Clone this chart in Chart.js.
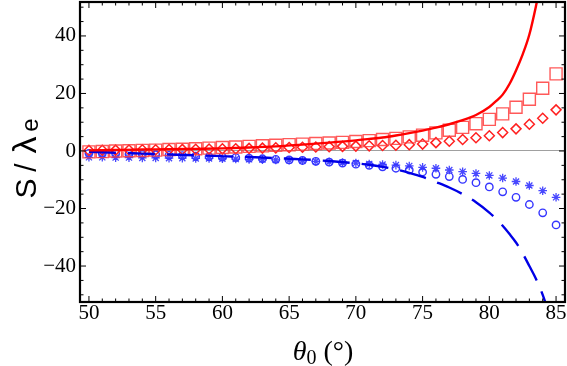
<!DOCTYPE html>
<html lang="en">
<head>
<meta charset="UTF-8">
<title>S / lambda_e vs theta_0</title>
<script src="https://cdn.jsdelivr.net/npm/chart.js"></script>
<style>
  body { margin: 0; background: #ffffff; }
</style>
</head>
<body>
<canvas id="myChart" width="567" height="366"></canvas>
<script>
    // marker positions, one every degree
    var theta_marks = [50, 51, 52, 53, 54, 55, 56, 57, 58, 59, 60, 61, 62, 63, 64, 65, 66, 67,
                       68, 69, 70, 71, 72, 73, 74, 75, 76, 77, 78, 79, 80, 81, 82, 83, 84, 85];

    var squares  = [-0.3, -0.2, 0.0, 0.1, 0.2, 0.3, 0.5, 0.6, 0.8, 1.0, 1.2, 1.4, 1.6, 1.8, 2.0, 2.2, 2.4, 2.6,
                    2.8, 3.0, 3.3, 3.6, 4.0, 4.4, 4.9, 5.5, 6.3, 7.2, 8.2, 9.5, 11.0, 12.9, 15.2, 18.0, 21.8, 26.8];
    var diamonds = [0.2, 0.25, 0.3, 0.35, 0.4, 0.45, 0.5, 0.55, 0.6, 0.7, 0.75, 0.8, 0.9, 1.0, 1.1, 1.2, 1.3, 1.4,
                    1.5, 1.6, 1.7, 1.8, 1.9, 2.0, 2.2, 2.4, 2.9, 3.4, 4.0, 4.6, 5.3, 6.4, 7.7, 9.3, 11.4, 14.3];
    var circles  = [-0.8, -0.9, -1.0, -1.1, -1.2, -1.3, -1.5, -1.6, -1.8, -2.0, -2.1, -2.3, -2.5, -2.7, -2.9, -3.1, -3.3, -3.6,
                    -3.9, -4.2, -4.6, -5.0, -5.5, -6.0, -6.6, -7.3, -8.1, -8.9, -9.9, -11.0, -12.5, -14.2, -16.1, -18.6, -21.5, -25.7];
    var stars    = [-2.2, -2.2, -2.3, -2.3, -2.4, -2.4, -2.5, -2.5, -2.6, -2.6, -2.7, -2.8, -2.9, -3.0, -3.1, -3.2, -3.4, -3.6,
                    -3.8, -4.0, -4.2, -4.5, -4.7, -4.9, -5.2, -5.7, -6.0, -6.6, -7.2, -7.8, -8.5, -9.4, -10.6, -12.0, -13.8, -16.1];

    // the two curves
    var solid_x  = [50, 52, 54, 56, 58, 60, 62, 64, 66, 68, 70, 71, 72, 73, 74, 75, 76, 77, 78, 79,
                    80, 80.5, 81, 81.5, 82, 82.5, 83, 83.5, 84];
    var solid_y  = [0.2, 0.35, 0.5, 0.6, 0.75, 0.9, 1.2, 1.6, 2.2, 2.9, 3.7, 4.2, 4.7, 5.4, 6.2, 7.1, 8.1, 9.3, 10.7, 12.5,
                    15.3, 17.3, 19.6, 23.2, 28.0, 33.6, 40.5, 50.5, 62.0];
    var dashed_x = [50, 52, 54, 56, 58, 60, 62, 64, 66, 68, 70, 71, 72, 73, 74, 75, 76, 77, 78, 79,
                    80, 80.5, 81, 81.5, 82, 82.5, 83, 83.5, 84, 84.5];
    var dashed_y = [-0.3, -0.6, -0.9, -1.2, -1.5, -1.8, -2.1, -2.5, -2.9, -3.5, -4.3, -4.8, -5.5, -6.4, -7.6, -9.0, -10.8, -12.7, -15.0, -17.8,
                    -21.4, -23.6, -26.0, -28.8, -31.8, -35.6, -40.0, -44.5, -50.0, -57.0];

    var x_ticks = [50, 55, 60, 65, 70, 75, 80, 85];
    var y_ticks = [-40, -20, 0, 20, 40];

    var SERIF = '"Liberation Serif", "Times New Roman", serif';
    var SANS = '"Liberation Sans", Arial, sans-serif';

    function zip(xs, ys) {
        var out = [];
        for (var i = 0; i < xs.length; i++) {
            out.push({x: xs[i], y: ys[i]});
        }
        return out;
    }

    function fmt(v) {
        return v < 0 ? '\u2212' + Math.abs(v) : String(v);
    }

    // frame with inward ticks, like the original plot
    var framePlugin = {
        id: 'frame',
        afterDatasetsDraw: function(chart) {
            var ctx = chart.ctx, a = chart.chartArea;
            var xs = chart.scales.x, ys = chart.scales.y;
            ctx.save();
            ctx.strokeStyle = '#000';
            ctx.lineWidth = 1;
            ctx.beginPath();
            for (var v = 49; v <= 86; v++) {
                var px = xs.getPixelForValue(v);
                if (px < a.left || px > a.right) continue;
                var len = (v % 5 === 0) ? 6 : 3.5;
                ctx.moveTo(px, a.bottom); ctx.lineTo(px, a.bottom - len);
                ctx.moveTo(px, a.top); ctx.lineTo(px, a.top + len);
            }
            for (var w = -50; w <= 50; w += 5) {
                var py = ys.getPixelForValue(w);
                if (py < a.top || py > a.bottom) continue;
                var l2 = (w % 20 === 0) ? 6 : 3.5;
                ctx.moveTo(a.left, py); ctx.lineTo(a.left + l2, py);
                ctx.moveTo(a.right, py); ctx.lineTo(a.right - l2, py);
            }
            ctx.stroke();
            ctx.lineWidth = 2.2;
            ctx.strokeRect(a.left, a.top, a.right - a.left, a.bottom - a.top);
            ctx.restore();
        }
    };

    // axis titles with the subscripts and the greek letters
    var titlePlugin = {
        id: 'titles',
        afterDraw: function(chart) {
            var ctx = chart.ctx;
            ctx.save();
            ctx.fillStyle = '#000';
            ctx.textBaseline = 'alphabetic';

            // x title: theta_0 (deg)
            var big = '28px ' + SERIF, itl = 'italic 28px ' + SERIF, sub = '20px ' + SERIF;
            ctx.font = itl; var w1 = ctx.measureText('\u03b8').width;
            ctx.font = sub; var w2 = ctx.measureText('0').width;
            ctx.font = big; var w3 = ctx.measureText(' (\u00b0)').width;
            var x0 = 323 - (w1 + w2 + w3) / 2, base = 360;
            ctx.font = itl; ctx.fillText('\u03b8', x0, base);
            ctx.font = sub; ctx.fillText('0', x0 + w1, base + 4);
            ctx.font = big; ctx.fillText(' (\u00b0)', x0 + w1 + w2, base);

            // y title: S / lambda_e, rotated
            ctx.translate(36, 200);
            ctx.rotate(-Math.PI / 2);
            ctx.textAlign = 'center';
            ctx.font = '30px ' + SANS;
            ctx.fillText('S', 11.5, 0);
            ctx.fillText('/', 32.5, 0);
            ctx.font = '34px ' + SANS;
            ctx.fillText('\u03bb', 55, 0);
            ctx.font = '24px ' + SANS;
            ctx.fillText('e', 75, 1.5);
            ctx.restore();
        }
    };

    var ctx = document.getElementById('myChart');
    var chart = new Chart(ctx, {
        type: 'scatter',
        data: {
            datasets: [
                {
                    label: 'solid',
                    data: zip(solid_x, solid_y),
                    showLine: true,
                    borderColor: '#ff0000',
                    borderWidth: 2.4,
                    pointRadius: 0,
                    cubicInterpolationMode: 'monotone'
                },
                {
                    label: 'dashed',
                    data: zip(dashed_x, dashed_y),
                    showLine: true,
                    borderColor: '#0000e6',
                    borderWidth: 2.4,
                    borderDash: [27, 12],
                    pointRadius: 0,
                    cubicInterpolationMode: 'monotone'
                },
                {
                    label: 'squares',
                    data: zip(theta_marks, squares),
                    pointStyle: 'rect',
                    pointRadius: 8.5,
                    borderColor: 'rgba(255, 60, 60, 0.85)',
                    borderWidth: 1.4,
                    backgroundColor: 'rgba(0,0,0,0)'
                },
                {
                    label: 'diamonds',
                    data: zip(theta_marks, diamonds),
                    pointStyle: 'rectRot',
                    pointRadius: 5,
                    borderColor: '#ff2020',
                    borderWidth: 1.5,
                    backgroundColor: 'rgba(0,0,0,0)'
                },
                {
                    label: 'circles',
                    data: zip(theta_marks, circles),
                    pointStyle: 'circle',
                    pointRadius: 3.7,
                    borderColor: '#3535ff',
                    borderWidth: 1.4,
                    backgroundColor: 'rgba(0,0,0,0)'
                },
                {
                    label: 'stars',
                    data: zip(theta_marks, stars),
                    pointStyle: 'star',
                    pointRadius: 4.3,
                    borderColor: '#4848ff',
                    borderWidth: 1.3,
                    backgroundColor: 'rgba(0,0,0,0)'
                }
            ]
        },
        options: {
            responsive: false,
            animation: false,
            layout: { autoPadding: false, padding: { top: 2, right: 2, left: 0, bottom: 0 } },
            plugins: {
                legend: { display: false },
                tooltip: { enabled: false }
            },
            scales: {
                x: {
                    type: 'linear',
                    min: 49.33,
                    max: 85.67,
                    afterBuildTicks: function(s) { s.ticks = x_ticks.map(function(v) { return {value: v}; }); },
                    afterFit: function(s) { s.height = 64; s.paddingLeft = 0; s.paddingRight = 0; },
                    grid: { display: false, drawTicks: false },
                    border: { display: false },
                    ticks: {
                        padding: -1,
                        color: '#000',
                        maxRotation: 0,
                        font: { family: SERIF, size: 21 },
                        callback: function(v) { return fmt(v); }
                    }
                },
                y: {
                    type: 'linear',
                    min: -52.5,
                    max: 51.8,
                    afterBuildTicks: function(s) { s.ticks = y_ticks.map(function(v) { return {value: v}; }); },
                    afterFit: function(s) { s.width = 80; s.paddingTop = 0; s.paddingBottom = 0; },
                    grid: {
                        drawTicks: false,
                        color: function(c) { return c.tick && c.tick.value === 0 ? '#a0a0a0' : 'rgba(0,0,0,0)'; },
                        lineWidth: 1
                    },
                    border: { display: false },
                    ticks: {
                        padding: 4,
                        color: '#000',
                        font: { family: SERIF, size: 21 },
                        callback: function(v) { return fmt(v); }
                    }
                }
            }
        },
        plugins: [framePlugin, titlePlugin]
    });
</script>
</body>
</html>
